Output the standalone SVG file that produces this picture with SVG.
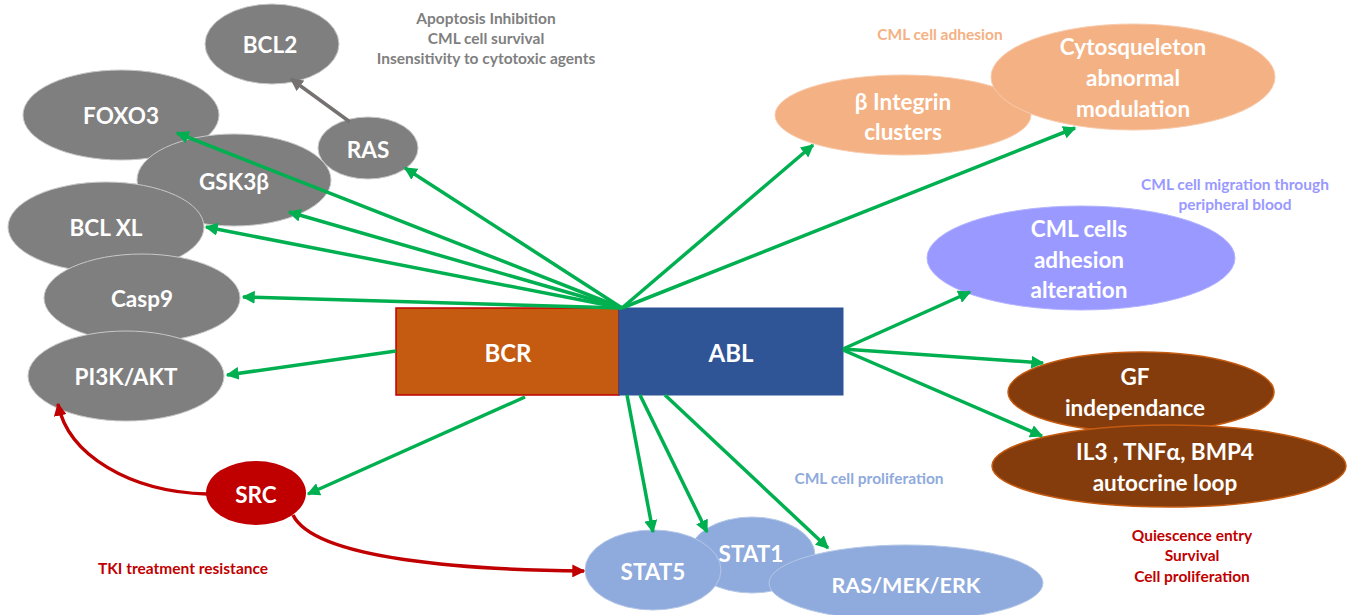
<svg xmlns="http://www.w3.org/2000/svg" width="1359" height="615" viewBox="0 0 1359 615">
<defs>
<marker id="ag" viewBox="0 0 10 10" refX="9" refY="5" markerWidth="13" markerHeight="13" markerUnits="userSpaceOnUse" orient="auto"><path d="M0,0 L10,5 L0,10 Z" fill="#00b050"/></marker>
<marker id="ar" viewBox="0 0 10 10" refX="9" refY="5" markerWidth="13" markerHeight="13" markerUnits="userSpaceOnUse" orient="auto"><path d="M0,0 L10,5 L0,10 Z" fill="#c00000"/></marker>
<marker id="agr" viewBox="0 0 10 10" refX="9" refY="5" markerWidth="13" markerHeight="13" markerUnits="userSpaceOnUse" orient="auto"><path d="M0,0 L10,5 L0,10 Z" fill="#767171"/></marker>
<style>
text{font-family:Lato,"Open Sans","Liberation Sans",sans-serif;font-weight:bold;text-anchor:middle;dominant-baseline:central}
.w{fill:#fff;font-size:22.5px}
.gray{fill:#7f7f7f;stroke:#c8c8c8;stroke-width:1}
.peach{fill:#f4b183;stroke:#f8cbad;stroke-width:1}
.lav{fill:#9999ff;stroke:#b4b4ff;stroke-width:1}
.brown{fill:#843c0c;stroke:#c55a11;stroke-width:1.5}
.lb{fill:#8faadc;stroke:#b4c7e7;stroke-width:1}
.g{stroke:#00b050;stroke-width:3.5;fill:none;marker-end:url(#ag)}
.r{stroke:#c00000;stroke-width:3.5;fill:none;marker-end:url(#ar)}
.note{font-size:15.5px}
</style>
</defs>
<rect width="1359" height="615" fill="#fff"/>

<g id="notes">
<text class="note" x="486" y="18" fill="#7f7f7f">Apoptosis Inhibition</text>
<text class="note" x="486" y="38" fill="#7f7f7f">CML cell survival</text>
<text class="note" x="486" y="58" fill="#7f7f7f">Insensitivity to cytotoxic agents</text>
<text class="note" x="940" y="34" fill="#f4b183">CML cell adhesion</text>
<text class="note" x="1235" y="184" fill="#9999ff">CML cell migration through</text>
<text class="note" x="1235" y="204" fill="#9999ff">peripheral blood</text>
<text class="note" x="869" y="478" fill="#8faadc">CML cell proliferation</text>
<text class="note" x="1192" y="535" fill="#c00000">Quiescence entry</text>
<text class="note" x="1192" y="555" fill="#c00000">Survival</text>
<text class="note" x="1192" y="576" fill="#c00000">Cell proliferation</text>
<text class="note" x="183" y="568" fill="#c00000">TKI treatment resistance</text>
</g>

<g id="bcl2"><ellipse class="gray" cx="272" cy="44" rx="67" ry="40"/><text class="w" x="270" y="44">BCL2</text></g>
<g id="foxo3"><ellipse class="gray" cx="121" cy="115" rx="98" ry="45"/><text class="w" x="121" y="115">FOXO3</text></g>
<g id="ras"><ellipse class="gray" cx="368" cy="148" rx="50" ry="31"/><text class="w" x="368" y="149">RAS</text></g>
<g id="gsk3b"><ellipse class="gray" cx="234" cy="180" rx="97" ry="46"/><text class="w" x="234" y="181">GSK3β</text></g>
<g id="bclxl"><ellipse class="gray" cx="106" cy="227" rx="98" ry="45"/><text class="w" x="106" y="227">BCL XL</text></g>
<g id="casp9"><ellipse class="gray" cx="142" cy="298" rx="98" ry="44"/><text class="w" x="142" y="298">Casp9</text></g>
<g id="pi3k"><ellipse class="gray" cx="126" cy="376" rx="98" ry="45"/><text class="w" x="126" y="376">PI3K/AKT</text></g>

<g id="integrin"><ellipse class="peach" cx="903" cy="115" rx="128" ry="40"/><text class="w" x="903" y="101">β Integrin</text><text class="w" x="903" y="131">clusters</text></g>
<g id="cyto"><ellipse class="peach" cx="1133" cy="77" rx="142" ry="53"/><text class="w" x="1133" y="46">Cytosqueleton</text><text class="w" x="1133" y="77">abnormal</text><text class="w" x="1133" y="108">modulation</text></g>
<g id="adhesion"><ellipse class="lav" cx="1081" cy="258" rx="154" ry="52"/><text class="w" x="1079" y="228">CML cells</text><text class="w" x="1079" y="259">adhesion</text><text class="w" x="1079" y="289">alteration</text></g>
<g id="gf"><ellipse class="brown" cx="1141" cy="392" rx="133" ry="40"/><text class="w" x="1135" y="376">GF</text><text class="w" x="1135" y="407">independance</text></g>
<g id="il3"><ellipse class="brown" cx="1169" cy="466" rx="177" ry="41"/><text class="w" x="1165" y="451">IL3 , TNFα, BMP4</text><text class="w" x="1165" y="482">autocrine loop</text></g>

<g id="stat1"><ellipse class="lb" cx="752" cy="555" rx="63" ry="38"/><text class="w" x="751" y="553">STAT1</text></g>
<g id="rasmek"><ellipse class="lb" cx="906" cy="583" rx="137" ry="38"/><text class="w" x="906" y="585" style="font-size:21.5px">RAS/MEK/ERK</text></g>
<g id="stat5"><ellipse class="lb" cx="653" cy="570" rx="68" ry="40"/><text class="w" x="653" y="571">STAT5</text></g>

<g id="src"><ellipse cx="256" cy="493" rx="50" ry="32" fill="#c00000"/><text class="w" x="256" y="494">SRC</text></g>

<g id="bcr"><rect x="396" y="308" width="223" height="87" fill="#c55a11" stroke="#c00000" stroke-width="1.5"/><text class="w" x="508" y="352" style="font-size:24px">BCR</text></g>
<g id="abl"><rect x="619" y="308" width="224" height="87" fill="#2f5597" stroke="#2f5597" stroke-width="1"/><text class="w" x="731" y="352" style="font-size:24px">ABL</text></g>

<g id="connectors">
<line x1="350" y1="122" x2="291" y2="79" stroke="#767171" stroke-width="3.5" marker-end="url(#agr)"/>
<line class="g" x1="622" y1="308" x2="177" y2="133"/>
<line class="g" x1="622" y1="308" x2="405" y2="168"/>
<line class="g" x1="622" y1="308" x2="289" y2="212"/>
<line class="g" x1="622" y1="308" x2="206" y2="227"/>
<line class="g" x1="622" y1="308" x2="243" y2="297"/>
<line class="g" x1="622" y1="308" x2="813" y2="145"/>
<line class="g" x1="622" y1="308" x2="1075" y2="128"/>
<line class="g" x1="396" y1="351" x2="227" y2="375"/>
<line class="g" x1="525" y1="397" x2="308" y2="494"/>
<line class="g" x1="843" y1="349" x2="970" y2="292"/>
<line class="g" x1="843" y1="349" x2="1043" y2="363"/>
<line class="g" x1="843" y1="350" x2="1042" y2="436"/>
<line class="g" x1="627" y1="395" x2="653" y2="532"/>
<line class="g" x1="640" y1="395" x2="707" y2="532"/>
<line class="g" x1="665" y1="395" x2="828" y2="548"/>
<path class="r" d="M207,494 C130,492 68,455 58,404"/>
<path class="r" d="M293,515 C315,560 470,570 584,571"/>
</g>
</svg>
